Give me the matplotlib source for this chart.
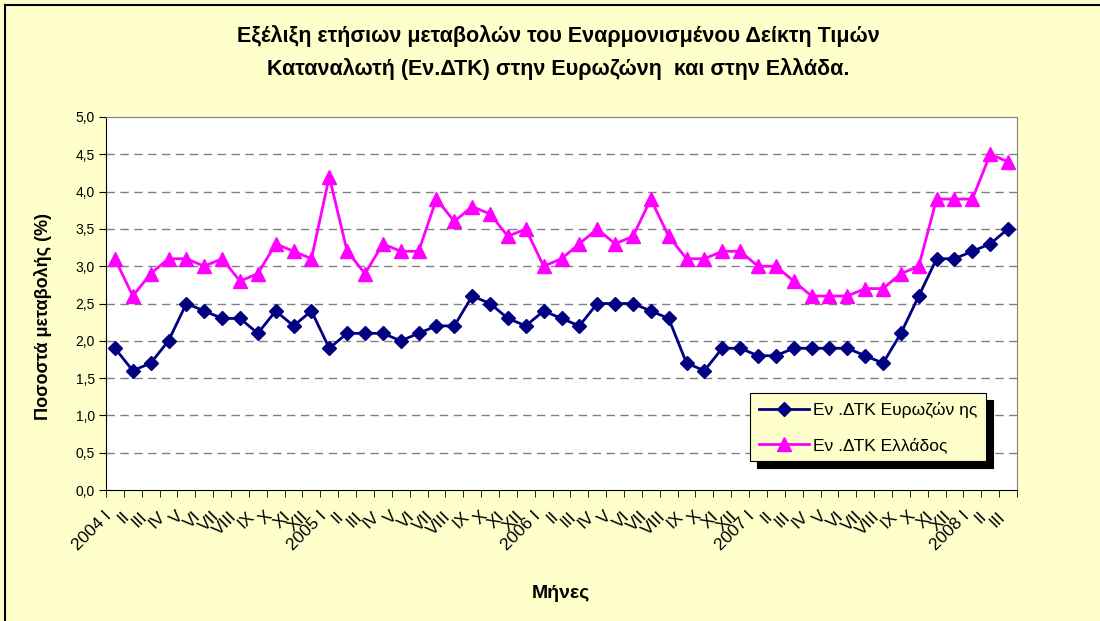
import numpy as np
import matplotlib.pyplot as plt
from matplotlib.lines import Line2D
from matplotlib.transforms import ScaledTranslation

plt.rcParams['font.family'] = ['Liberation Sans', 'DejaVu Sans']

# monthly labels, 2004 I .. 2008 III
roman = ['I', 'II', 'III', 'IV', 'V', 'VI', 'VII', 'VIII', 'IX', 'X', 'XI', 'XII']
years = ['2004', '2005', '2006', '2007', '2008']
months = []
for y in years:
    for k, r in enumerate(roman):
        if y == '2008' and k > 2:
            break
        months.append(y + ' ' + r if k == 0 else r)

eurozone = [1.9, 1.6, 1.7, 2.0, 2.5, 2.4, 2.3, 2.3, 2.1, 2.4, 2.2, 2.4,
            1.9, 2.1, 2.1, 2.1, 2.0, 2.1, 2.2, 2.2, 2.6, 2.5, 2.3, 2.2,
            2.4, 2.3, 2.2, 2.5, 2.5, 2.5, 2.4, 2.3, 1.7, 1.6, 1.9, 1.9,
            1.8, 1.8, 1.9, 1.9, 1.9, 1.9, 1.8, 1.7, 2.1, 2.6, 3.1, 3.1,
            3.2, 3.3, 3.5]
greece = [3.1, 2.6, 2.9, 3.1, 3.1, 3.0, 3.1, 2.8, 2.9, 3.3, 3.2, 3.1,
          4.2, 3.2, 2.9, 3.3, 3.2, 3.2, 3.9, 3.6, 3.8, 3.7, 3.4, 3.5,
          3.0, 3.1, 3.3, 3.5, 3.3, 3.4, 3.9, 3.4, 3.1, 3.1, 3.2, 3.2,
          3.0, 3.0, 2.8, 2.6, 2.6, 2.6, 2.7, 2.7, 2.9, 3.0, 3.9, 3.9,
          3.9, 4.5, 4.4]
yticks = np.arange(0, 5.01, 0.5)

W, H = 1100, 621
fig = plt.figure(figsize=(11, 6.21), dpi=100, facecolor='#FFFFCC')
ax = fig.add_axes([106/W, 1-490/H, (1017-106)/W, (490-117)/H])
ax.set_facecolor('white')

x = np.arange(len(months))
ax.plot(x, eurozone, color='#000080', lw=2, marker='D', ms=7.5,
        label='Εν .ΔΤΚ Ευρωζών ης', zorder=3)
ax.plot(x, greece, color='#FF00FF', lw=2, marker='^', ms=10,
        label='Εν .ΔΤΚ Ελλάδος', zorder=3)

ax.set_xlim(-0.5, len(months) - 0.5)
ax.set_ylim(0, 5)
ax.set_yticks(yticks)
ax.set_yticklabels([('%.1f' % v).replace('.', ',') for v in yticks], fontsize=10)
for v in yticks[1:-1]:
    ax.axhline(v, color='#808080', lw=1, ls=(0, (6, 4)), zorder=1)

ax.set_xticks(x)
ax.set_xticklabels(months, rotation=45, ha='right', va='top',
                   rotation_mode='anchor', fontsize=12.5)
ax.tick_params(axis='x', length=0, pad=2)
shift = ScaledTranslation(-11/100, -16/100, fig.dpi_scale_trans)
for lab in ax.get_xticklabels():
    lab.set_transform(lab.get_transform() + shift)
ax.set_xticks(np.arange(-0.5, len(months), 1), minor=True)
ax.tick_params(axis='x', which='minor', length=5, direction='out', color='black')
ax.tick_params(axis='y', length=5, direction='out', color='black', pad=3)

for s in ['top', 'right']:
    ax.spines[s].set_color('#808080')
for s in ['left', 'bottom']:
    ax.spines[s].set_color('black')

leg = ax.legend(loc='upper left', bbox_to_anchor=(750/W, 1-393/H),
                bbox_transform=fig.transFigure, fontsize=12.5,
                frameon=True, fancybox=False, handlelength=2.9,
                borderpad=0.5, labelspacing=1.1, handletextpad=0.25,
                borderaxespad=0,
                shadow={'ox': 5, 'oy': -5, 'color': 'black', 'alpha': 1})
leg.get_frame().set_facecolor('#FFFFCC')
leg.get_frame().set_edgecolor('black')
leg.get_frame().set_alpha(1)
leg.get_frame().set_linewidth(0.8)

fig.text(558/W, 1-36/H, 'Εξέλιξη ετήσιων μεταβολών του Εναρμονισμένου Δείκτη Τιμών',
         ha='center', va='center', fontsize=15.5, fontweight='bold')
fig.text(558/W, 1-69/H, 'Καταναλωτή (Εν.ΔΤΚ) στην Ευρωζώνη  και στην Ελλάδα.',
         ha='center', va='center', fontsize=15.5, fontweight='bold')
fig.text(43/W, 1-316/H, 'Ποσοστά μεταβολής (%)', rotation=90, ha='center',
         va='center', fontsize=13, fontweight='bold')
fig.text(561/W, 1-593/H, 'Μήνες', ha='center', va='center', fontsize=14,
         fontweight='bold')

# outer chart border (left and top edges visible)
fig.add_artist(Line2D([5/W, 5/W], [0, 1-5/H], transform=fig.transFigure,
                      color='black', lw=1.5))
fig.add_artist(Line2D([5/W, 1], [1-5/H, 1-5/H], transform=fig.transFigure,
                      color='black', lw=1.5))

fig.savefig('out.png', dpi=100, facecolor=fig.get_facecolor())
